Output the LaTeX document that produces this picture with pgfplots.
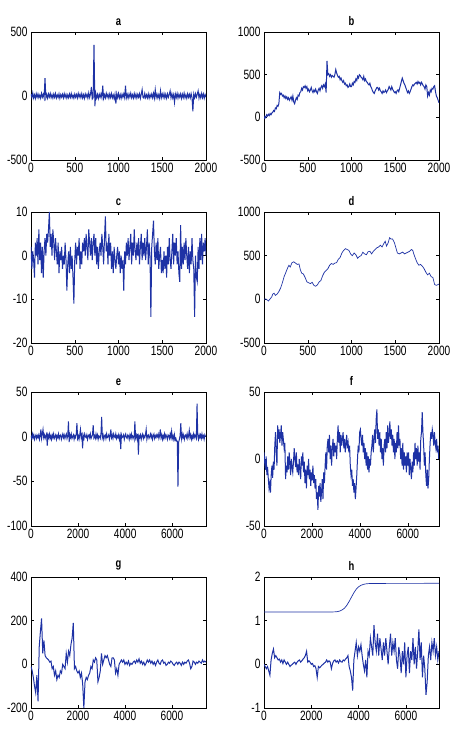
\documentclass[border=0pt]{standalone}
\usepackage{pgfplots}
\pgfplotsset{compat=1.18}
\usepackage{fontspec}
\setmainfont{Liberation Sans}[FakeStretch=0.75]
\definecolor{ml}{RGB}{30,50,165}
\pgfplotsset{
 panel/.style={scale only axis, width=175pt, anchor=south west,
  axis line style={line width=0.5pt}, tick align=inside, tick pos=both,
  major tick length=3pt, tick style={black, line width=0.4pt},
  tick label style={font=\fontsize{13.5}{13.5}\selectfont},
  /pgf/number format/assume math mode=true, /pgf/number format/1000 sep={},
  scaled ticks=false,
  title style={font=\bfseries\fontsize{12.5}{12.5}\selectfont, yshift=-3pt}},
 sp/.style={ml, line width=1pt, mark=none},
 spt/.style={ml, line width=0.7pt, mark=none},
 table/ptab/.style={x expr=\coordindex*#1, y index=0, header=false, row sep=\\}
}
\begin{document}
\begin{tikzpicture}[x=1pt,y=1pt]
\path (0,0) rectangle (451,735);
% a
\begin{axis}[panel, at={(31pt,575pt)}, height=128pt, title={a},
 xmin=0, xmax=2000, ymin=-500, ymax=500, xtick={0,500,1000,1500,2000}, ytick={-500,0,500}]
\addplot[sp] table[ptab=10] {
14\\-12\\24\\-16\\9\\-19\\18\\-10\\16\\-14\\
7\\-17\\21\\-9\\13\\-15\\140\\-14\\12\\-18\\
16\\-8\\20\\-13\\10\\-17\\15\\-11\\19\\-16\\
8\\-12\\17\\-19\\11\\-9\\14\\-15\\18\\-10\\
13\\-17\\9\\-14\\16\\-11\\19\\-13\\7\\-18\\
15\\-10\\12\\-16\\20\\-9\\14\\-13\\18\\-15\\
10\\-19\\16\\-8\\13\\-17\\24\\-12\\15\\70\\
-24\\-14\\400\\-80\\19\\-16\\12\\-20\\14\\-11\\
17\\-13\\80\\-18\\10\\-15\\21\\-9\\13\\-17\\
16\\-12\\19\\-14\\8\\-22\\15\\-60\\18\\-13\\
20\\-16\\11\\-19\\14\\-10\\17\\-13\\80\\-15\\
12\\-18\\16\\-9\\22\\-14\\10\\-17\\19\\-12\\
15\\-16\\13\\-10\\18\\-19\\14\\50\\-11\\-17\\
20\\-13\\9\\-15\\17\\-18\\12\\-10\\16\\-14\\
21\\-17\\50\\-12\\14\\-16\\10\\-19\\40\\-13\\
16\\-11\\19\\-15\\13\\-18\\17\\-10\\12\\40\\
-14\\18\\-16\\11\\-50\\15\\-12\\20\\-17\\13\\
-10\\16\\-19\\14\\-13\\22\\-15\\9\\-18\\17\\
-11\\13\\-16\\19\\-12\\-120\\15\\-14\\18\\-10\\
14\\40\\-17\\12\\-15\\20\\-13\\16\\-18\\11\\
-9\\
};
\end{axis}
% b
\begin{axis}[panel, at={(264pt,575pt)}, height=128pt, title={b},
 xmin=0, xmax=2000, ymin=-500, ymax=1000, xtick={0,500,1000,1500,2000}, ytick={-500,0,500,1000}]
\addplot[sp] table[ptab=10] {
-20\\10\\-5\\30\\15\\35\\20\\45\\30\\50\\
60\\80\\70\\110\\100\\140\\130\\160\\290\\270\\
280\\250\\260\\230\\250\\220\\240\\210\\230\\200\\
220\\240\\200\\250\\180\\160\\200\\230\\210\\260\\
250\\290\\300\\340\\320\\360\\350\\370\\340\\360\\
310\\330\\300\\320\\350\\310\\290\\320\\300\\330\\
300\\280\\320\\340\\310\\350\\370\\340\\380\\360\\
390\\290\\660\\500\\510\\480\\500\\470\\490\\480\\
470\\500\\560\\520\\490\\470\\480\\440\\460\\430\\
410\\430\\390\\400\\370\\380\\350\\360\\390\\360\\
360\\400\\380\\420\\410\\450\\430\\480\\460\\500\\
490\\470\\460\\440\\480\\430\\450\\420\\410\\390\\
380\\400\\360\\340\\310\\290\\280\\310\\330\\350\\
350\\320\\340\\310\\300\\280\\310\\290\\300\\320\\
290\\310\\330\\360\\340\\320\\360\\330\\310\\290\\
300\\280\\310\\320\\300\\340\\380\\420\\460\\430\\
400\\380\\350\\320\\290\\310\\280\\300\\330\\360\\
380\\370\\390\\400\\410\\390\\420\\400\\410\\380\\
410\\390\\370\\360\\330\\380\\360\\250\\290\\260\\
320\\300\\340\\330\\360\\370\\300\\250\\230\\200\\
170\\
};
\end{axis}
% c
\begin{axis}[panel, at={(31pt,392pt)}, height=131pt, title={c},
 xmin=0, xmax=2000, ymin=-20, ymax=10, xtick={0,500,1000,1500,2000}, ytick={-20,-10,0,10}]
\addplot[sp] table[ptab=10] {
2\\-3\\1\\-1\\-5\\3\\0\\4\\-2\\6\\
-1\\3\\-4\\2\\-5\\1\\4\\0\\5\\3\\
6\\10\\2\\5\\0\\6\\3\\-1\\4\\1\\
-2\\3\\-4\\1\\-1\\2\\-3\\0\\-2\\3\\
-1\\-8\\-2\\1\\-4\\2\\-3\\0\\-5\\-11\\
-1\\3\\-2\\2\\0\\4\\-3\\1\\-2\\3\\
1\\4\\0\\5\\2\\-1\\6\\3\\0\\4\\
-1\\3\\5\\0\\4\\-2\\2\\-3\\1\\3\\
0\\5\\2\\-2\\4\\9\\1\\3\\-2\\5\\
0\\3\\-3\\1\\-4\\2\\-1\\-3\\0\\2\\
-2\\1\\-4\\0\\-3\\-1\\-8\\1\\-2\\3\\
0\\4\\-1\\2\\5\\-2\\3\\0\\6\\1\\
-1\\3\\0\\4\\-2\\2\\5\\-1\\3\\0\\
4\\-1\\2\\6\\-2\\3\\0\\-14\\2\\5\\
8\\1\\-2\\3\\-1\\4\\-3\\0\\2\\-4\\
-1\\-4\\1\\-3\\0\\-5\\2\\-2\\4\\-1\\
-3\\1\\5\\-2\\3\\0\\4\\-2\\1\\-4\\
-6\\7\\-3\\2\\-2\\3\\-1\\4\\0\\-3\\
2\\-4\\1\\-2\\4\\-1\\-3\\-14\\0\\-5\\
-6\\2\\-3\\4\\-1\\5\\-2\\3\\1\\4\\
0\\
};
\end{axis}
% d
\begin{axis}[panel, at={(264pt,392pt)}, height=131pt, title={d},
 xmin=0, xmax=2000, ymin=-500, ymax=1000, xtick={0,500,1000,1500,2000}, ytick={-500,0,500,1000}]
\addplot[spt] coordinates {(0,0)(20,5)(40,-10)(50,-20)(70,5)(90,30)(100,60)(115,70)(130,45)(150,60)(170,90)(190,130)(210,190)(230,260)(250,310)(270,360)(285,390)(300,370)(320,420)(340,430)(360,415)(380,400)(400,405)(415,340)(430,300)(450,290)(470,250)(490,200)(510,190)(530,180)(550,195)(570,160)(590,150)(610,165)(630,200)(650,215)(670,270)(690,310)(710,330)(730,350)(750,390)(770,410)(790,400)(810,415)(830,420)(850,460)(870,480)(890,530)(910,560)(930,580)(950,570)(970,560)(990,520)(1010,500)(1030,530)(1050,510)(1070,470)(1090,490)(1110,500)(1130,540)(1150,520)(1170,510)(1190,545)(1210,550)(1230,520)(1250,550)(1270,570)(1290,590)(1310,600)(1330,620)(1350,600)(1370,640)(1385,665)(1400,610)(1420,650)(1435,705)(1450,690)(1470,690)(1490,650)(1510,580)(1525,530)(1545,520)(1565,530)(1585,540)(1605,520)(1625,530)(1645,540)(1665,550)(1685,570)(1700,560)(1715,510)(1730,470)(1750,420)(1770,390)(1790,400)(1810,380)(1830,350)(1850,310)(1870,280)(1890,300)(1910,260)(1930,250)(1950,170)(1970,160)(1990,170)(2000,175)};
\end{axis}
% e
\begin{axis}[panel, at={(31pt,209pt)}, height=134pt, title={e},
 xmin=0, xmax=7430, ymin=-100, ymax=50, xtick={0,2000,4000,6000}, ytick={-100,-50,0,50}]
\addplot[sp] table[ptab=30] {
1\\-2\\3\\-1\\2\\-3\\0\\2\\-2\\1\\
-1\\2\\-3\\1\\8\\-2\\3\\8\\-1\\2\\
-2\\1\\3\\-10\\2\\-1\\3\\-2\\1\\-3\\
2\\-1\\3\\-2\\0\\2\\-3\\1\\-1\\3\\
-2\\1\\2\\-3\\0\\3\\-1\\2\\-2\\1\\
3\\-2\\1\\17\\-6\\2\\-1\\3\\-2\\0\\
2\\-3\\1\\-1\\3\\15\\-2\\1\\-3\\2\\
8\\-1\\2\\-13\\1\\-2\\3\\0\\-1\\2\\
-3\\1\\2\\-1\\3\\-2\\0\\2\\13\\-1\\
1\\-2\\3\\-1\\2\\-3\\1\\0\\-2\\3\\
22\\-1\\2\\-3\\1\\2\\-2\\3\\-1\\0\\
2\\-3\\1\\8\\-1\\2\\-2\\3\\0\\-1\\
3\\-2\\1\\-1\\2\\-3\\1\\-14\\2\\-1\\
0\\2\\-3\\1\\3\\-1\\-2\\2\\1\\-3\\
2\\-1\\3\\-2\\1\\0\\-3\\17\\-1\\2\\
-2\\3\\-20\\1\\-1\\2\\-3\\1\\3\\-2\\
1\\-1\\2\\8\\-3\\1\\2\\-2\\0\\3\\
-1\\2\\-3\\1\\3\\-2\\1\\-1\\2\\0\\
3\\-2\\1\\8\\-1\\2\\-3\\1\\-2\\3\\
-1\\2\\0\\-3\\2\\1\\-2\\3\\-1\\6\\
-2\\1\\-3\\2\\-4\\-2\\-5\\-5\\-56\\-6\\
-3\\1\\15\\-2\\3\\-1\\2\\-3\\1\\2\\
-1\\3\\-2\\1\\7\\-1\\2\\-3\\1\\-2\\
3\\-1\\2\\0\\-2\\37\\1\\-3\\2\\-1\\
2\\-2\\3\\-1\\1\\-3\\2\\0\\
};
\end{axis}
% f
\begin{axis}[panel, at={(264pt,209pt)}, height=134pt, title={f},
 xmin=0, xmax=7300, ymin=-50, ymax=50, xtick={0,2000,4000,6000}, ytick={-50,0,50}]
\addplot[sp] table[ptab=30] {
5\\-3\\-8\\2\\-12\\-6\\-15\\-22\\-18\\-25\\
-12\\-5\\-14\\-2\\-8\\10\\20\\5\\-5\\25\\
15\\22\\12\\18\\25\\10\\20\\14\\8\\12\\
-15\\-5\\-10\\2\\-8\\5\\-3\\-12\\0\\-6\\
-10\\-2\\8\\0\\-6\\5\\-10\\-4\\-12\\0\\
-8\\-15\\2\\-5\\5\\-10\\-2\\-18\\-8\\-22\\
-5\\-12\\0\\-15\\-8\\-20\\-10\\-16\\-5\\-18\\
-12\\-22\\-15\\-30\\-25\\-38\\-20\\-28\\-18\\-32\\
-25\\-15\\-30\\-10\\-18\\-5\\5\\-8\\10\\15\\
5\\18\\0\\10\\-5\\8\\15\\2\\12\\5\\
10\\0\\15\\25\\12\\20\\5\\18\\10\\15\\
20\\8\\15\\5\\12\\18\\8\\12\\5\\10\\
-5\\-12\\-8\\-20\\-15\\-25\\-18\\-30\\-22\\-12\\
0\\10\\5\\20\\22\\15\\10\\18\\5\\12\\
0\\8\\-5\\5\\-8\\2\\-10\\0\\-5\\5\\
10\\18\\5\\15\\22\\12\\30\\37\\15\\22\\
10\\20\\5\\15\\0\\8\\-5\\10\\15\\5\\
20\\8\\25\\12\\18\\28\\15\\22\\10\\18\\
5\\15\\0\\12\\5\\20\\8\\25\\10\\15\\
0\\8\\-5\\12\\-8\\5\\-5\\2\\-10\\5\\
-5\\5\\-12\\0\\-8\\-15\\-2\\-10\\5\\-5\\
12\\0\\8\\-5\\10\\-2\\5\\-8\\15\\20\\
35\\20\\10\\-5\\5\\-12\\-20\\-8\\-22\\-15\\
0\\12\\20\\15\\22\\18\\10\\20\\12\\8\\
15\\5\\10\\0\\
};
\end{axis}
% g
\begin{axis}[panel, at={(31pt,27pt)}, height=131pt, title={g},
 xmin=0, xmax=7450, ymin=-200, ymax=400, xtick={0,2000,4000,6000}, ytick={-200,0,200,400}]
\addplot[sp] table[ptab=50] {
-10\\-30\\-60\\-100\\-130\\-50\\-170\\80\\150\\210\\
50\\110\\40\\30\\25\\20\\10\\15\\-20\\-10\\
-50\\-30\\-70\\-50\\-60\\-30\\-40\\0\\-10\\-20\\
50\\10\\60\\40\\90\\120\\190\\-20\\-10\\-30\\
-40\\-30\\-60\\-40\\-90\\-200\\-80\\-60\\-70\\-50\\
-40\\-10\\-20\\20\\10\\30\\20\\-80\\-60\\-30\\
50\\0\\20\\40\\30\\40\\20\\0\\-10\\30\\
30\\20\\-40\\-20\\-50\\0\\10\\20\\10\\20\\
0\\10\\0\\15\\-5\\5\\0\\10\\15\\5\\
20\\10\\25\\5\\15\\0\\10\\-5\\5\\20\\
10\\20\\5\\15\\0\\10\\-5\\10\\20\\5\\
0\\15\\20\\5\\10\\-5\\0\\10\\5\\15\\
10\\0\\-5\\5\\10\\0\\10\\5\\-5\\10\\
0\\10\\5\\15\\20\\5\\-20\\-10\\15\\10\\
0\\10\\5\\15\\10\\5\\20\\10\\15\\10\\
};
\end{axis}
% h
\begin{axis}[panel, at={(264pt,27pt)}, height=131pt, title={h},
 xmin=0, xmax=7400, ymin=-1, ymax=2, xtick={0,2000,4000,6000}, ytick={-1,0,1,2}]
\addplot[spt] coordinates {(0,1.2)(2900,1.2)(3000,1.202)(3100,1.207)(3200,1.22)(3300,1.245)(3400,1.285)(3500,1.35)(3600,1.44)(3700,1.54)(3800,1.64)(3900,1.72)(4000,1.775)(4100,1.81)(4200,1.83)(4300,1.842)(4400,1.848)(4600,1.853)(7400,1.855)};
\addplot[sp] table[ptab=50] {
0\\-0.05\\-0.1\\-0.05\\-0.15\\-0.25\\0.1\\0.25\\0.35\\0.15\\
0.2\\0.15\\0.1\\0.12\\0.05\\0.1\\0.02\\0.1\\0.05\\0.0\\
0.05\\0.0\\-0.05\\-0.02\\0.0\\0.03\\0.05\\0.0\\0.05\\0.08\\
0.1\\0.05\\0.08\\0.12\\0.15\\0.2\\0.3\\0.05\\0.08\\0.05\\
0.0\\0.02\\-0.05\\-0.03\\-0.1\\-0.3\\-0.05\\-0.08\\-0.05\\-0.02\\
0.0\\0.03\\0.05\\0.1\\0.05\\0.08\\0.05\\-0.1\\0.02\\0.08\\
0.1\\0.05\\0.08\\0.03\\0.1\\0.06\\0.05\\0.1\\0.08\\0.12\\
0.15\\0.2\\-0.05\\-0.15\\-0.3\\-0.6\\0.1\\0.3\\0.5\\0.2\\
0.4\\0.3\\0.45\\0.2\\0.0\\-0.15\\0.1\\-0.3\\0.3\\0.2\\
0.6\\0.4\\0.2\\0.9\\0.5\\0.3\\0.7\\0.2\\0.6\\0.35\\
0.1\\0.5\\0.2\\0.6\\0.3\\0.0\\0.4\\0.7\\0.2\\0.5\\
0.3\\0.6\\0.1\\-0.1\\0.4\\0.2\\-0.2\\0.3\\0.0\\0.5\\
-0.3\\0.2\\0.4\\-0.2\\0.3\\0.1\\0.6\\0.0\\0.4\\-0.1\\
0.3\\0.8\\0.1\\0.5\\-0.3\\0.2\\-0.1\\-0.7\\-0.4\\0.2\\
0.4\\0.1\\0.5\\0.3\\0.6\\0.2\\0.4\\0.1\\0.3\\
};
\end{axis}
\end{tikzpicture}
\end{document}
